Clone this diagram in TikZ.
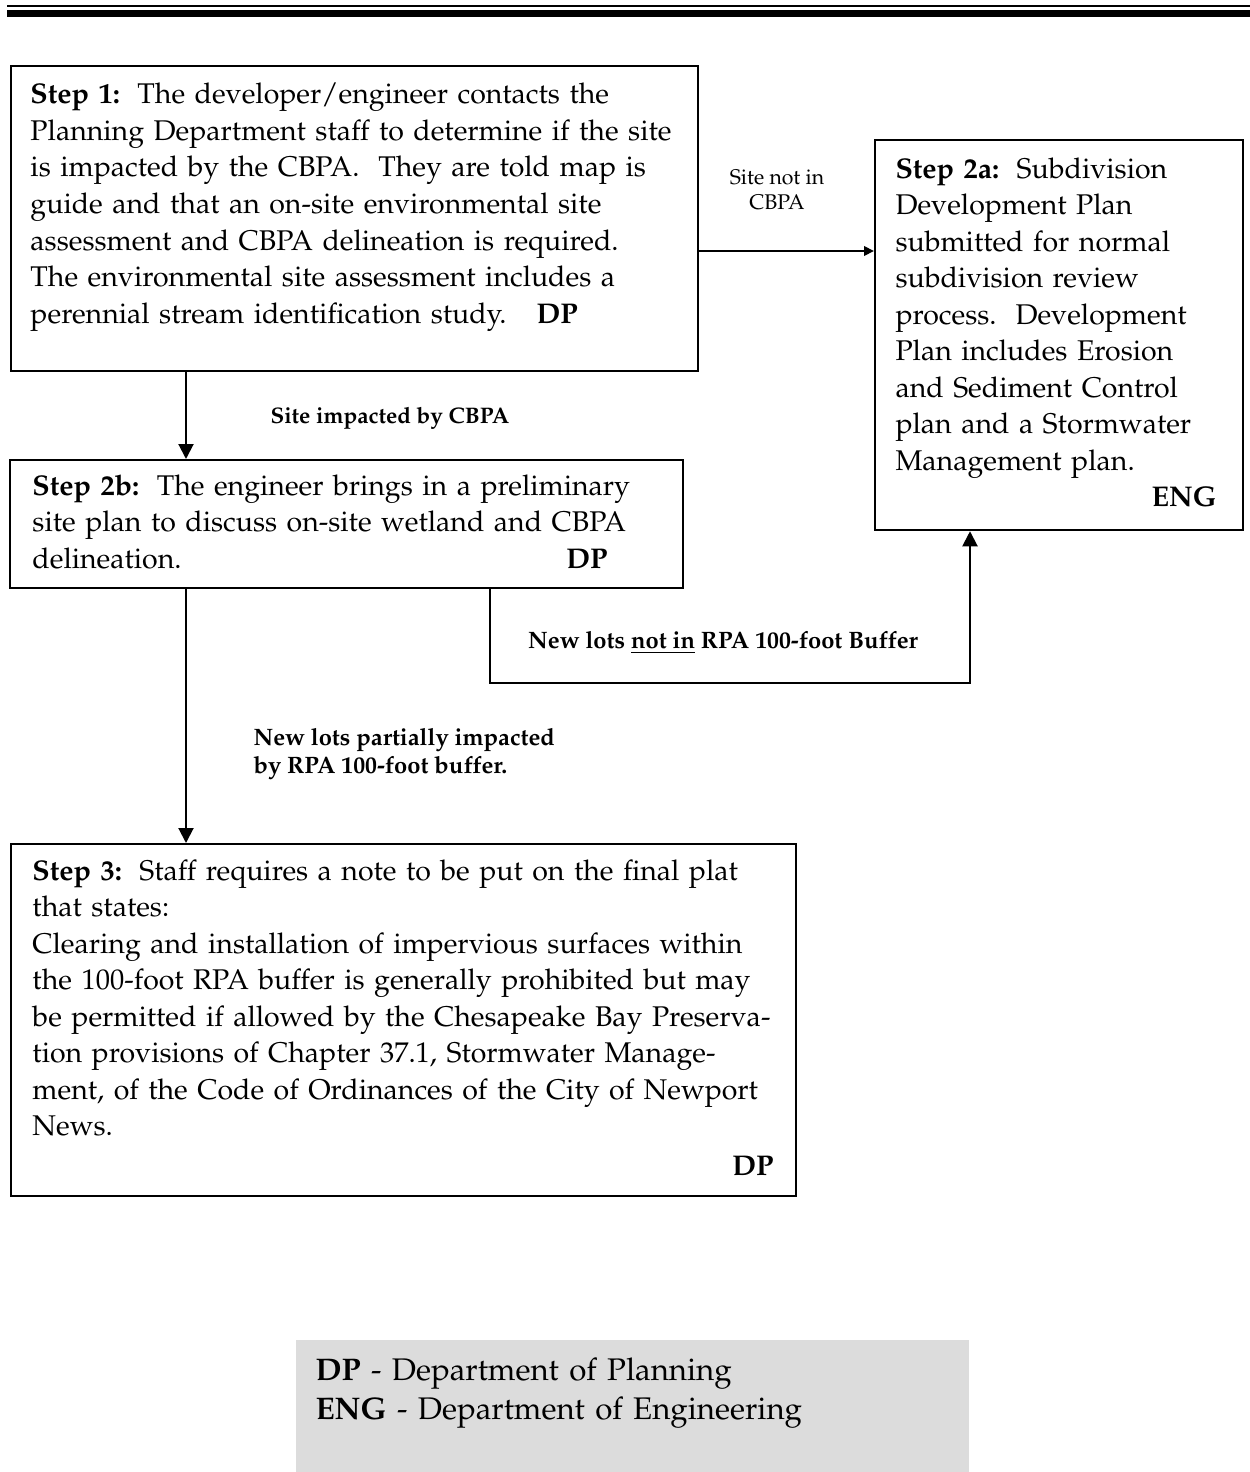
\documentclass[tikz,border=0pt]{standalone}
\usepackage[T1]{fontenc}
\renewcommand{\rmdefault}{ppl}
\usetikzlibrary{arrows.meta}
\definecolor{leggray}{RGB}{220,220,220}
\newcommand{\rtag}[2]{\hskip 0pt plus 1fill\textbf{#1}\kern#2\mbox{}}
\begin{document}
\begin{tikzpicture}[x=0.4pt,y=-0.4pt,
  box/.style={draw,line width=0.9pt,anchor=north west,inner sep=0pt},
  steptext/.style={anchor=base west,inner sep=0pt,align=left,font=\fontsize{11.4pt}{14.6pt}\selectfont},
  blab/.style={inner sep=0pt,font=\fontsize{9.5pt}{11.2pt}\selectfont\bfseries},
  arr/.style={line width=0.8pt,-{Triangle[length=6pt,width=6pt]}},
  sarr/.style={line width=0.8pt,-{Triangle[length=4pt,width=3.8pt]}},
  rulethin/.style={line width=0.8pt},
  rulethick/.style={line width=2.8pt}
]
\useasboundingbox (0,0) rectangle (1250,1472);

% top rules
\draw[rulethin] (7,6) -- (1250,6);
\draw[rulethick] (7,13.5) -- (1250,13.5);

% boxes
\node[box,minimum width=274.8pt,minimum height=122pt] (s1) at (10,65) {};
\node[box,minimum width=147.2pt,minimum height=156pt] (s2a) at (874,139) {};
\node[box,minimum width=269.2pt,minimum height=51.2pt] (s2b) at (9,459) {};
\node[box,minimum width=314pt,minimum height=140.8pt] (s3) at (10,843) {};
\node[anchor=north west,inner sep=0pt,fill=leggray,minimum width=269.2pt,minimum height=53.2pt] (leg) at (295,1339) {};

% box texts
\node[steptext,text width=280pt] (t1) at (30,104) {%
\textbf{Step 1:}\hspace{7pt}The developer/engineer contacts the\\
Planning Department staff to determine if the site\\
is impacted by the CBPA.\ \ They are told map is\\
guide and that an on-site environmental site\\
assessment and CBPA delineation is required.\\
The environmental site assessment includes a\\
perennial stream identification study.\hspace{12pt}\textbf{DP}};

\node[steptext,text width=138pt] (t2a) at (895,178) {%
\textbf{Step 2a:}\hspace{7pt}Subdivision\\
Development Plan\\
submitted for normal\\
subdivision review\\
process.\ \ Development\\
Plan includes Erosion\\
and Sediment Control\\
plan and a Stormwater\\
Management plan.\\
\rtag{ENG}{9.6pt}};

\node[steptext,text width=264pt] (t2b) at (32,495) {%
\textbf{Step 2b:}\hspace{7pt}The engineer brings in a preliminary\\
site plan to discuss on-site wetland and CBPA\\
delineation.\rtag{DP}{34pt}};

\node[steptext,text width=316pt] (t3) at (32,880) {%
\textbf{Step 3:}\hspace{7pt}Staff requires a note to be put on the final plat\\
that states:\\
Clearing and installation of impervious surfaces within\\
the 100-foot RPA buffer is generally prohibited but may\\
be permitted if allowed by the Chesapeake Bay Preserva-\\
tion provisions of Chapter 37.1, Stormwater Manage-\\
ment, of the Code of Ordinances of the City of Newport\\
News.\\[1.5pt]
\rtag{DP}{19.6pt}};

\node[steptext,text width=260pt,font=\fontsize{12.5pt}{15.6pt}\selectfont] (legt) at (315,1380) {%
\textbf{DP} - Department of Planning\\
\textbf{ENG} - Department of Engineering};

% connector labels
\node[inner sep=0pt,align=center,font=\fontsize{8.5pt}{10pt}\selectfont] (l1) at (777,190) {Site not in\\CBPA};
\node[blab,anchor=west,font=\fontsize{9pt}{11pt}\selectfont\bfseries] (l2) at (270,418) {Site impacted by CBPA};
\node[blab] (l3) at (723,643) {New lots \underline{not in} RPA 100-foot Buffer};
\node[blab,anchor=west,align=left] (l4) at (253,754) {New lots partially impacted\\by RPA 100-foot buffer.};

% helper coordinates
\coordinate (y251) at (0,251);
\coordinate (x186) at (186,0);
\coordinate (x490) at (490,0);
\coordinate (turn) at (970,683);

% connectors
\draw[sarr] (s1.east |- y251) -- (s2a.west |- y251);
\draw[arr] (s1.south -| x186) -- (s2b.north -| x186);
\draw[arr] (s2b.south -| x186) -- (s3.north -| x186);
\draw[arr] (s2b.south -| x490) |- (turn) -- (s2a.south -| turn);
\end{tikzpicture}
\end{document}
